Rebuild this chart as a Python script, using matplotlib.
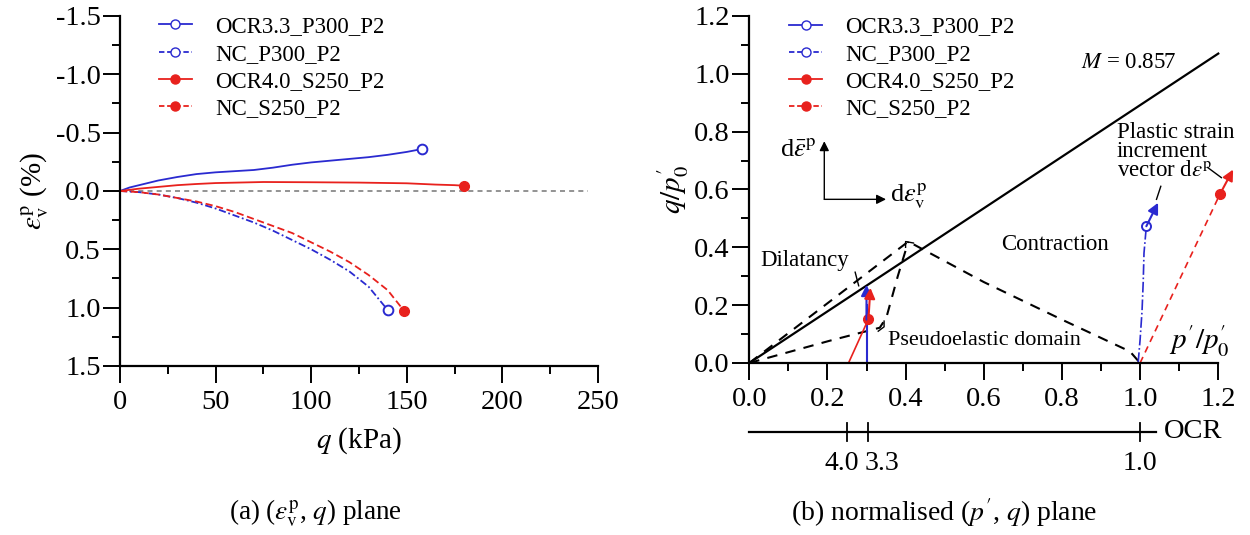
import numpy as np
import matplotlib
matplotlib.use('Agg')
import matplotlib.pyplot as plt
from matplotlib.ticker import MultipleLocator

plt.rcParams['font.family'] = ['Liberation Serif', 'DejaVu Serif']
plt.rcParams['mathtext.fontset'] = 'stix'

BLUE = '#2a2ad0'
RED = '#e8211d'

# ---- panel (a) data: q (kPa) vs plastic volumetric strain (%)
q_ocr33 = [0, 5, 10, 20, 30, 40, 50, 60, 70, 80, 90, 100, 110, 120, 130, 140, 150, 158]
ev_ocr33 = [0, -0.03, -0.05, -0.09, -0.12, -0.145, -0.16, -0.17, -0.18, -0.20, -0.225,
            -0.245, -0.26, -0.275, -0.29, -0.31, -0.335, -0.36]
q_nc300 = [0, 10, 20, 30, 40, 50, 60, 70, 80, 90, 100, 110, 120, 130, 140]
ev_nc300 = [0, 0.01, 0.03, 0.06, 0.10, 0.15, 0.21, 0.27, 0.34, 0.42, 0.50, 0.59, 0.69, 0.82, 1.02]
q_ocr40 = [0, 10, 20, 30, 40, 50, 75, 100, 125, 150, 165, 175, 180]
ev_ocr40 = [0, -0.02, -0.035, -0.05, -0.06, -0.068, -0.077, -0.075, -0.072, -0.066,
            -0.055, -0.05, -0.045]
q_nc250 = [0, 10, 20, 30, 40, 50, 60, 70, 80, 90, 100, 110, 120, 130, 140, 148.7]
ev_nc250 = [0, 0.01, 0.03, 0.06, 0.09, 0.13, 0.18, 0.24, 0.30, 0.36, 0.44, 0.52, 0.61,
            0.72, 0.85, 1.03]

# ---- panel (b) data: normalised p'/p'0 vs q/p'0
p_ocr33 = [0.30, 0.30]
r_ocr33 = [0.0, 0.20]
vec_ocr33 = [(0.30, 0.15), (0.30, 0.27)]
p_ocr40 = [0.254, 0.305]
r_ocr40 = [0.0, 0.152]
vec_ocr40 = [(0.305, 0.152), (0.31, 0.26)]
p_nc300 = [0.995, 1.0, 1.005, 1.008, 1.01, 1.016]
r_nc300 = [0.0, 0.08, 0.18, 0.28, 0.38, 0.473]
vec_nc300 = [(1.016, 0.473), (1.046, 0.554)]
p_nc250 = [1.0, 1.204]
r_nc250 = [0.0, 0.583]
vec_nc250 = [(1.204, 0.583), (1.238, 0.669)]

p_csl = [0.0, 1.2]
r_csl = [0.0, 1.07]
p_outer = [0.0, 0.407, 0.6, 0.8, 0.974, 1.0]
r_outer = [0.0, 0.42, 0.28, 0.15, 0.04, 0.0]
p_inner = [0.0, 0.206, 0.334, 0.351, 0.38, 0.407]
r_inner = [0.0, 0.077, 0.122, 0.158, 0.30, 0.42]

ocr_values = [4.0, 3.3, 1.0]

labels = ['OCR3.3_P300_P2', 'NC_P300_P2', 'OCR4.0_S250_P2', 'NC_S250_P2']

fig = plt.figure(figsize=(12.5, 5.35), dpi=100)
ax1 = fig.add_axes([0.096, 0.3159, 0.3824, 0.6542])
ax2 = fig.add_axes([0.5994, 0.3215, 0.3752, 0.6486])


def style_axes(ax):
    for s in ['top', 'right']:
        ax.spines[s].set_visible(False)
    for s in ['left', 'bottom']:
        ax.spines[s].set_linewidth(1.6)
    ax.tick_params(which='major', direction='out', length=12, width=1.4, labelsize=20.5)
    ax.tick_params(which='minor', direction='out', length=6, width=1.4)
    ax.tick_params(axis='x', pad=5)
    ax.tick_params(axis='y', pad=2)


# ---------------- panel (a)
ax = ax1
ax.axhline(0, color='grey', lw=1.2, ls=(0, (3, 2.5)), xmax=0.98)
ax.plot(q_ocr33, ev_ocr33, '-', color=BLUE, lw=1.3)
ax.plot(q_nc300, ev_nc300, '-.', color=BLUE, lw=1.3, dashes=(4, 1.5, 1, 1.5))
ax.plot(q_ocr40, ev_ocr40, '-', color=RED, lw=1.3)
ax.plot(q_nc250, ev_nc250, '--', color=RED, lw=1.3, dashes=(4, 2))
ax.plot(q_ocr33[-1], ev_ocr33[-1], 'o', mfc='white', mec=BLUE, mew=1.4, ms=7)
ax.plot(q_nc300[-1], ev_nc300[-1], 'o', mfc='white', mec=BLUE, mew=1.4, ms=7)
ax.plot(q_ocr40[-1], ev_ocr40[-1], 'o', color=RED, ms=7)
ax.plot(q_nc250[-1], ev_nc250[-1], 'o', color=RED, ms=7)

h = [plt.Line2D([], [], color=BLUE, lw=1.3, marker='o', mfc='white', mec=BLUE, ms=6.5),
     plt.Line2D([], [], color=BLUE, lw=1.3, ls='--', dashes=(3, 1.5), marker='o', mfc='white', mec=BLUE, ms=6.5),
     plt.Line2D([], [], color=RED, lw=1.3, marker='o', ms=6.5),
     plt.Line2D([], [], color=RED, lw=1.3, ls='--', dashes=(3, 1.5), marker='o', ms=6.5)]


def legend_on(ax, x):
    lg = ax.legend(h, labels, loc='upper left', bbox_to_anchor=(x, 1.025), frameon=False,
                   fontsize=16.5, handlelength=1.45, handletextpad=1.0, labelspacing=0.27,
                   borderaxespad=0)
    for hl in lg.legend_handles:
        hl.set_markevery([1])
    return lg


legend_on(ax1, 0.062)
ax.set_xlim(0, 250)
ax.set_ylim(1.5, -1.5)
ax.xaxis.set_major_locator(MultipleLocator(50))
ax.xaxis.set_minor_locator(MultipleLocator(25))
ax.yaxis.set_major_locator(MultipleLocator(0.5))
ax.yaxis.set_minor_locator(MultipleLocator(0.25))
ax.yaxis.set_major_formatter(plt.FuncFormatter(lambda v, p: f'{v:.1f}'))
style_axes(ax)
ax.set_xlabel('$q$ (kPa)', fontsize=21, labelpad=8)
ax.set_ylabel(r'$\varepsilon_\mathrm{v}^\mathrm{p}$ (%)', fontsize=21, labelpad=3)

# ---------------- panel (b)
ax = ax2
ax.plot(p_csl, r_csl, '-', color='black', lw=1.6, clip_on=False)
ax.plot(p_outer, r_outer, '--', color='black', lw=1.5, dashes=(5, 4))
ax.plot(p_inner, r_inner, '--', color='black', lw=1.5, dashes=(5, 4))

ax.plot(p_ocr33, r_ocr33, '-', color=BLUE, lw=1.5)
ax.plot(p_ocr40, r_ocr40, '-', color=RED, lw=1.2)
ax.plot(p_nc300, r_nc300, '-.', color=BLUE, lw=1.2)
ax.plot(p_nc250, r_nc250, '--', color=RED, lw=1.2, dashes=(4, 3))
for vec, c in [(vec_ocr33, BLUE), (vec_ocr40, RED), (vec_nc300, BLUE), (vec_nc250, RED)]:
    ax.annotate('', xy=vec[1], xytext=vec[0], annotation_clip=False,
                arrowprops=dict(arrowstyle='-|>', color=c, lw=1.5, mutation_scale=16,
                                shrinkA=0, shrinkB=0))
ax.plot(p_ocr40[-1], r_ocr40[-1], 'o', color=RED, ms=7)
ax.plot(p_nc300[-1], r_nc300[-1], 'o', mfc='white', mec=BLUE, mew=1.4, ms=6.5)
ax.plot(p_nc250[-1], r_nc250[-1], 'o', color=RED, ms=7, clip_on=False)

legend_on(ax2, 0.065)
ax.set_xlim(0, 1.2)
ax.set_ylim(0, 1.2)
ax.xaxis.set_major_locator(MultipleLocator(0.2))
ax.xaxis.set_minor_locator(MultipleLocator(0.1))
ax.yaxis.set_major_locator(MultipleLocator(0.2))
ax.yaxis.set_minor_locator(MultipleLocator(0.1))
ax.xaxis.set_major_formatter(plt.FuncFormatter(lambda v, p: f'{v:.1f}'))
ax.yaxis.set_major_formatter(plt.FuncFormatter(lambda v, p: f'{v:.1f}'))
style_axes(ax)
ax.set_ylabel(r"$q/p_0^{\prime}$", fontsize=21, labelpad=2)

# annotations
ax.text(0.97, 1.04, '$M$ = 0.857', fontsize=16.5, ha='center', va='center')
ax.text(0.94, 0.73, 'Plastic strain\nincrement\nvector d$\\varepsilon^\\mathrm{p}$', fontsize=16.5,
        ha='left', va='center', linespacing=0.9)
ax.plot([1.053, 1.042], [0.611, 0.566], color='black', lw=1)
ax.plot([1.173, 1.208], [0.676, 0.641], color='black', lw=1, clip_on=False)
ax.text(0.782, 0.41, 'Contraction', fontsize=16.5, ha='center', va='center')
ax.text(0.142, 0.355, 'Dilatancy', fontsize=16.5, ha='center', va='center')
ax.plot([0.271, 0.28], [0.314, 0.267], color='black', lw=1)
ax.text(0.603, 0.079, 'Pseudoelastic domain', fontsize=16, ha='center', va='center')
ax.plot([0.33, 0.345, 0.345], [0.11, 0.125, 0.145], color='black', lw=1)
ax.plot([0.40, 0.40, 0.42], [0.40, 0.42, 0.415], color='black', lw=1)
ax.text(1.228, 0.076, r"$p^{\prime}/p_0^{\prime}$", fontsize=21, ha='right', va='center')

# strain increment axes
ax.annotate('', xy=(0.192, 0.767), xytext=(0.192, 0.566),
            arrowprops=dict(arrowstyle='-|>', color='black', lw=1, mutation_scale=14, shrinkA=0, shrinkB=0))
ax.annotate('', xy=(0.35, 0.566), xytext=(0.192, 0.566),
            arrowprops=dict(arrowstyle='-|>', color='black', lw=1, mutation_scale=14, shrinkA=0, shrinkB=0))
ax.text(0.124, 0.738, r'd$\bar{\varepsilon}^\mathrm{p}$', fontsize=19, ha='center', va='center')
ax.text(0.36, 0.576, r'd$\varepsilon_\mathrm{v}^\mathrm{p}$', fontsize=19, ha='left', va='center')

# secondary OCR scale
tr = ax.get_xaxis_transform()
ax.plot([0, 1.042], [-0.198, -0.198], color='black', lw=1.6, transform=tr, clip_on=False)
for k, ocr in enumerate(ocr_values):
    pos = 1.0 / ocr
    ax.plot([pos, pos], [-0.172, -0.224], color='black', lw=1.3, transform=tr, clip_on=False)
    if k == 0:
        ax.text(pos + 0.03, -0.29, f'{ocr:.1f}', fontsize=20, ha='right', va='center', transform=tr)
    elif k == 1:
        ax.text(pos - 0.008, -0.29, f'{ocr:.1f}', fontsize=20, ha='left', va='center', transform=tr)
    else:
        ax.text(pos, -0.29, f'{ocr:.1f}', fontsize=20, ha='center', va='center', transform=tr)
ax.text(1.06, -0.198, 'OCR', fontsize=20.5, ha='left', va='center', transform=tr)

# captions
fig.text(0.252, 1 - 513 / 535, r'(a) ($\varepsilon_\mathrm{v}^\mathrm{p}$, $q$) plane', fontsize=19.5,
         ha='center', va='center')
fig.text(0.755, 1 - 513 / 535, "(b) normalised ($p^{\\prime}$, $q$) plane", fontsize=20,
         ha='center', va='center')

fig.savefig('out.png', dpi=100)
